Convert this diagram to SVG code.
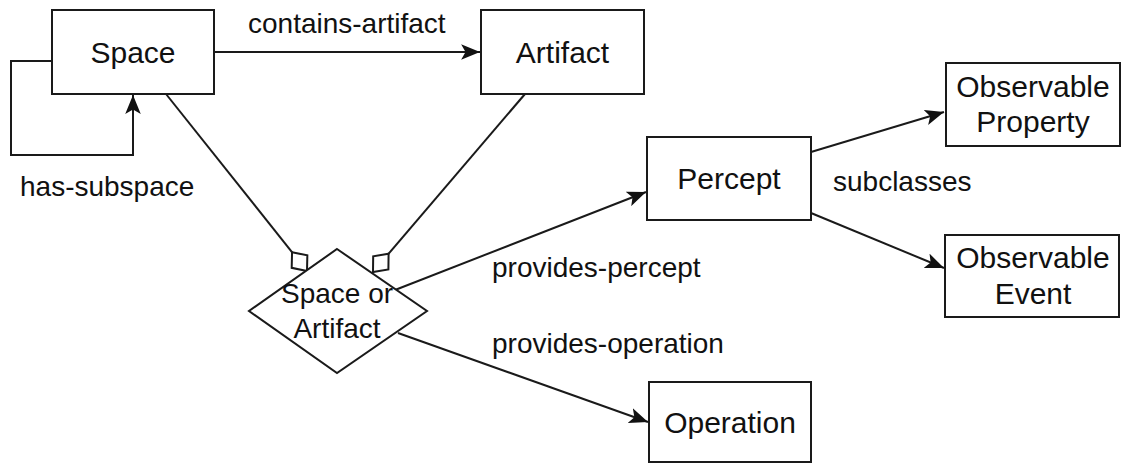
<svg xmlns="http://www.w3.org/2000/svg" width="1121" height="464" viewBox="0 0 1121 464">
<style>
.box{fill:#fff;stroke:#1a1a1a;stroke-width:2}
.edge{fill:none;stroke:#1a1a1a;stroke-width:2}
.nt{font-family:"Liberation Sans",Arial,sans-serif;font-size:30px;fill:#111;text-anchor:middle}
.dt{font-family:"Liberation Sans",Arial,sans-serif;font-size:28px;fill:#111;text-anchor:middle}
.lbl{font-family:"Liberation Sans",Arial,sans-serif;font-size:28px;fill:#111}
</style>
<defs>
<marker id="arrow" markerUnits="userSpaceOnUse" markerWidth="20" markerHeight="16" viewBox="0 0 18 14" refX="17" refY="7" orient="auto">
<path d="M0,0 L17,7 L0,14 L4,7 z" fill="#111"/>
</marker>
<marker id="odiamond" markerUnits="userSpaceOnUse" markerWidth="28" markerHeight="26" viewBox="0 -13 28 26" refX="25" refY="0" orient="auto">
<path d="M1,0 L13,-10 L25,0 L13,10 z" fill="#fff" stroke="#1a1a1a" stroke-width="2"/>
</marker>
</defs>
<rect width="1121" height="464" fill="#fff"/>
<g id="connectors">
<path class="edge" d="M52,61 H11 V155 H133 V95" marker-end="url(#arrow)"/>
<path class="edge" d="M214,52 H480" marker-end="url(#arrow)"/>
<path class="edge" d="M166,94 L307,271" marker-end="url(#odiamond)"/>
<path class="edge" d="M525,94 L373,272" marker-end="url(#odiamond)"/>
<path class="edge" d="M395,290 L646,192" marker-end="url(#arrow)"/>
<path class="edge" d="M398,333 L648,422" marker-end="url(#arrow)"/>
<path class="edge" d="M811,152 L944,112" marker-end="url(#arrow)"/>
<path class="edge" d="M811,213 L944,268" marker-end="url(#arrow)"/>
<text class="lbl" x="248" y="33">contains-artifact</text>
<text class="lbl" x="20" y="196">has-subspace</text>
<text class="lbl" x="492" y="277">provides-percept</text>
<text class="lbl" x="492" y="353">provides-operation</text>
<text class="lbl" x="833" y="191">subclasses</text>
</g>
<g id="space">
<rect class="box" x="52" y="10" width="162" height="84"/>
<text class="nt" x="133" y="63">Space</text>
</g>
<g id="artifact">
<rect class="box" x="481" y="10" width="163" height="84"/>
<text class="nt" x="562.5" y="63">Artifact</text>
</g>
<g id="space-or-artifact">
<polygon class="box" points="337,249 427,311 337,373 249,311"/>
<text class="dt" x="337" y="303">Space or</text>
<text class="dt" x="337" y="338">Artifact</text>
</g>
<g id="percept">
<rect class="box" x="647" y="137" width="164" height="83"/>
<text class="nt" x="729" y="189">Percept</text>
</g>
<g id="observable-property">
<rect class="box" x="946" y="63" width="174" height="83"/>
<text class="nt" x="1033" y="97">Observable</text>
<text class="nt" x="1033" y="132">Property</text>
</g>
<g id="observable-event">
<rect class="box" x="945" y="235" width="174" height="82"/>
<text class="nt" x="1033" y="268">Observable</text>
<text class="nt" x="1033" y="304">Event</text>
</g>
<g id="operation">
<rect class="box" x="649" y="382" width="162" height="80"/>
<text class="nt" x="730" y="433">Operation</text>
</g>
</svg>
